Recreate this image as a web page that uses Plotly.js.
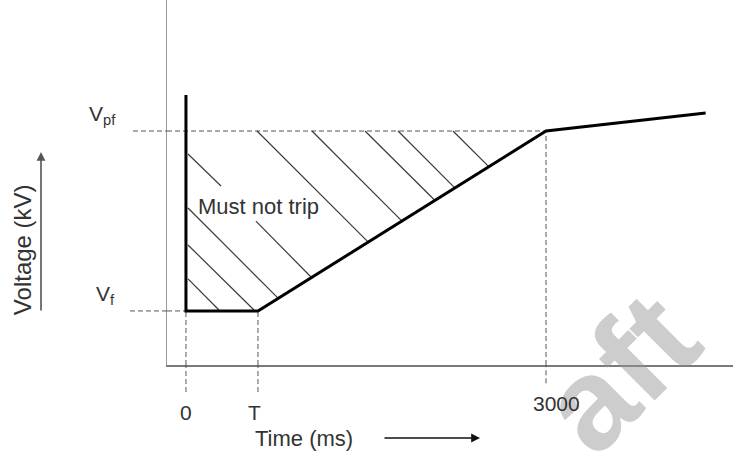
<!DOCTYPE html>
<html>
<head>
<meta charset="utf-8">
<script src="https://cdn.plot.ly/plotly-3.0.1.min.js"></script>
<style>
  html, body { margin: 0; padding: 0; background: #ffffff; }
  #chart { width: 733px; height: 455px; }
</style>
</head>
<body>
<div id="chart"></div>
<script>
// ---- data (time in ms, voltage in per-unit of Vpf) ----
const V_PF = 1.0;
const V_F = 0.231;
const T_MS = 600;
const T_3000 = 3000;

// "must not trip" boundary
const boundaryTime = [0, 0, 600, 3000, 4330];
const boundaryVolt = [1.154, 0.231, 0.231, 1.0, 1.077];

// hatch segments (start / end)
const hatchT0 = [2225, 1767, 1492, 1050, 592, 17, 583, 17, 17, 17];
const hatchV0 = [1.0, 1.0, 1.0, 1.0, 1.0, 0.902, 0.615, 0.671, 0.513, 0.368];
const hatchT1 = [2525, 2242, 2075, 1800, 1517, 292, 1042, 767, 567, 275];
const hatchV1 = [0.847, 0.756, 0.703, 0.615, 0.526, 0.765, 0.376, 0.286, 0.235, 0.235];

// tick labels
const xTickVals = [0, 600, 3000];
const xTickText = ['0', 'T', '3000'];
const yTickVals = [1.0, 0.231];
const yTickText = ['V<sub>pf</sub>', 'V<sub>f</sub>'];

const xRange = [-158, 4558];
const yRange = [0, 1.56];

// ---- build traces ----
const hx = [], hy = [];
for (let i = 0; i < hatchT0.length; i++) {
  hx.push(hatchT0[i], hatchT1[i], null);
  hy.push(hatchV0[i], hatchV1[i], null);
}

const traces = [
  {
    x: hx, y: hy, type: 'scatter', mode: 'lines',
    line: { color: '#3a3a3a', width: 1.2 },
    hoverinfo: 'skip', showlegend: false, connectgaps: false
  },
  {
    x: boundaryTime, y: boundaryVolt, type: 'scatter', mode: 'lines',
    line: { color: '#000000', width: 3 },
    showlegend: false
  }
];

const FONT = 'Liberation Sans, Arial, sans-serif';
const TXT = '#333333';
const dashStyle = { color: '#555555', width: 1, dash: '5px,3px' };

const shapes = [
  // Vpf guide
  { type: 'line', xref: 'paper', yref: 'y', x0: -0.060, x1: 0, y0: V_PF, y1: V_PF, line: dashStyle },
  { type: 'line', xref: 'x', yref: 'y', x0: xRange[0], x1: T_3000, y0: V_PF, y1: V_PF, line: dashStyle, layer: 'below' },
  // Vf guide
  { type: 'line', xref: 'paper', yref: 'y', x0: -0.0654, x1: 0, y0: V_F, y1: V_F, line: dashStyle },
  { type: 'line', xref: 'x', yref: 'y', x0: xRange[0], x1: 0, y0: V_F, y1: V_F, line: dashStyle, layer: 'below' },
  // verticals inside plot
  { type: 'line', xref: 'x', yref: 'y', x0: 0, x1: 0, y0: 0, y1: V_F, line: dashStyle, layer: 'below' },
  { type: 'line', xref: 'x', yref: 'y', x0: T_MS, x1: T_MS, y0: 0, y1: V_F, line: dashStyle, layer: 'below' },
  { type: 'line', xref: 'x', yref: 'y', x0: T_3000, x1: T_3000, y0: 0, y1: V_PF, line: dashStyle, layer: 'below' },
  // verticals below the axis
  { type: 'line', xref: 'x', yref: 'paper', x0: 0, x1: 0, y0: -0.074, y1: 0, line: dashStyle },
  { type: 'line', xref: 'x', yref: 'paper', x0: T_MS, x1: T_MS, y0: -0.074, y1: 0, line: dashStyle },
  { type: 'line', xref: 'x', yref: 'paper', x0: T_3000, x1: T_3000, y0: -0.05, y1: 0, line: dashStyle }
];

function label(opts) {
  return Object.assign({ showarrow: false, xanchor: 'center', yanchor: 'middle' }, opts);
}

const annotations = [
  // watermark
  label({ xref: 'paper', yref: 'paper', x: 0.80, y: -0.02, text: 'aft',
    textangle: -45, font: { family: FONT, size: 130, weight: 'bold', color: 'rgba(150,150,150,0.48)' } }),
  // x tick labels
  label({ xref: 'x', yref: 'paper', x: xTickVals[0], y: -0.1315, text: xTickText[0],
    font: { family: FONT, size: 21, color: TXT } }),
  label({ xref: 'x', yref: 'paper', x: xTickVals[1], xshift: -3, y: -0.1315, text: xTickText[1],
    font: { family: FONT, size: 21, color: TXT } }),
  label({ xref: 'x', yref: 'paper', x: xTickVals[2], xshift: 10, y: -0.1068, text: xTickText[2],
    font: { family: FONT, size: 21, color: TXT } }),
  // y tick labels
  label({ xref: 'paper', yref: 'y', x: -0.1148, y: yTickVals[0], yshift: 16, text: yTickText[0],
    font: { family: FONT, size: 21, color: TXT } }),
  label({ xref: 'paper', yref: 'y', x: -0.1095, y: yTickVals[1], yshift: 16, text: yTickText[1],
    font: { family: FONT, size: 21, color: TXT } }),
  // region label
  label({ xref: 'x', yref: 'y', x: 608, y: 0.679, text: 'Must not trip',
    font: { family: FONT, size: 22, color: TXT } }),
  // axis titles
  label({ xref: 'paper', yref: 'paper', x: 0.242, y: -0.2, text: 'Time (ms)',
    font: { family: FONT, size: 22, color: TXT } }),
  label({ xref: 'paper', yref: 'paper', x: -0.256, y: 0.315, text: 'Voltage (kV)',
    textangle: -90, font: { family: FONT, size: 24, color: TXT } }),
  // arrows
  { xref: 'paper', yref: 'paper', x: 0.553, y: -0.2, ax: -97, ay: 0, text: '', showarrow: true,
    xanchor: 'center', yanchor: 'middle',
    arrowhead: 2, arrowsize: 1.1, arrowwidth: 1.6, arrowcolor: '#111111' },
  { xref: 'paper', yref: 'paper', x: -0.2226, y: 0.5836, ax: 0, ay: 160, text: '', showarrow: true,
    xanchor: 'center', yanchor: 'middle',
    arrowhead: 2, arrowsize: 1.1, arrowwidth: 1.6, arrowcolor: '#555555' }
];

const layout = {
  width: 733, height: 455,
  margin: { l: 167, r: 0, t: 0, b: 90, pad: 0 },
  paper_bgcolor: '#ffffff', plot_bgcolor: '#ffffff',
  showlegend: false,
  xaxis: {
    range: xRange, showgrid: false, zeroline: false, showticklabels: false, ticks: '',
    showline: true, linecolor: '#7a7a7a', linewidth: 1.5, fixedrange: true
  },
  yaxis: {
    range: yRange, showgrid: false, zeroline: false, showticklabels: false, ticks: '',
    showline: true, linecolor: '#9a9a9a', linewidth: 1.5, fixedrange: true
  },
  shapes: shapes,
  annotations: annotations,
  font: { family: FONT, color: TXT }
};

Plotly.newPlot('chart', traces, layout, { displayModeBar: false, staticPlot: true });
</script>
</body>
</html>
